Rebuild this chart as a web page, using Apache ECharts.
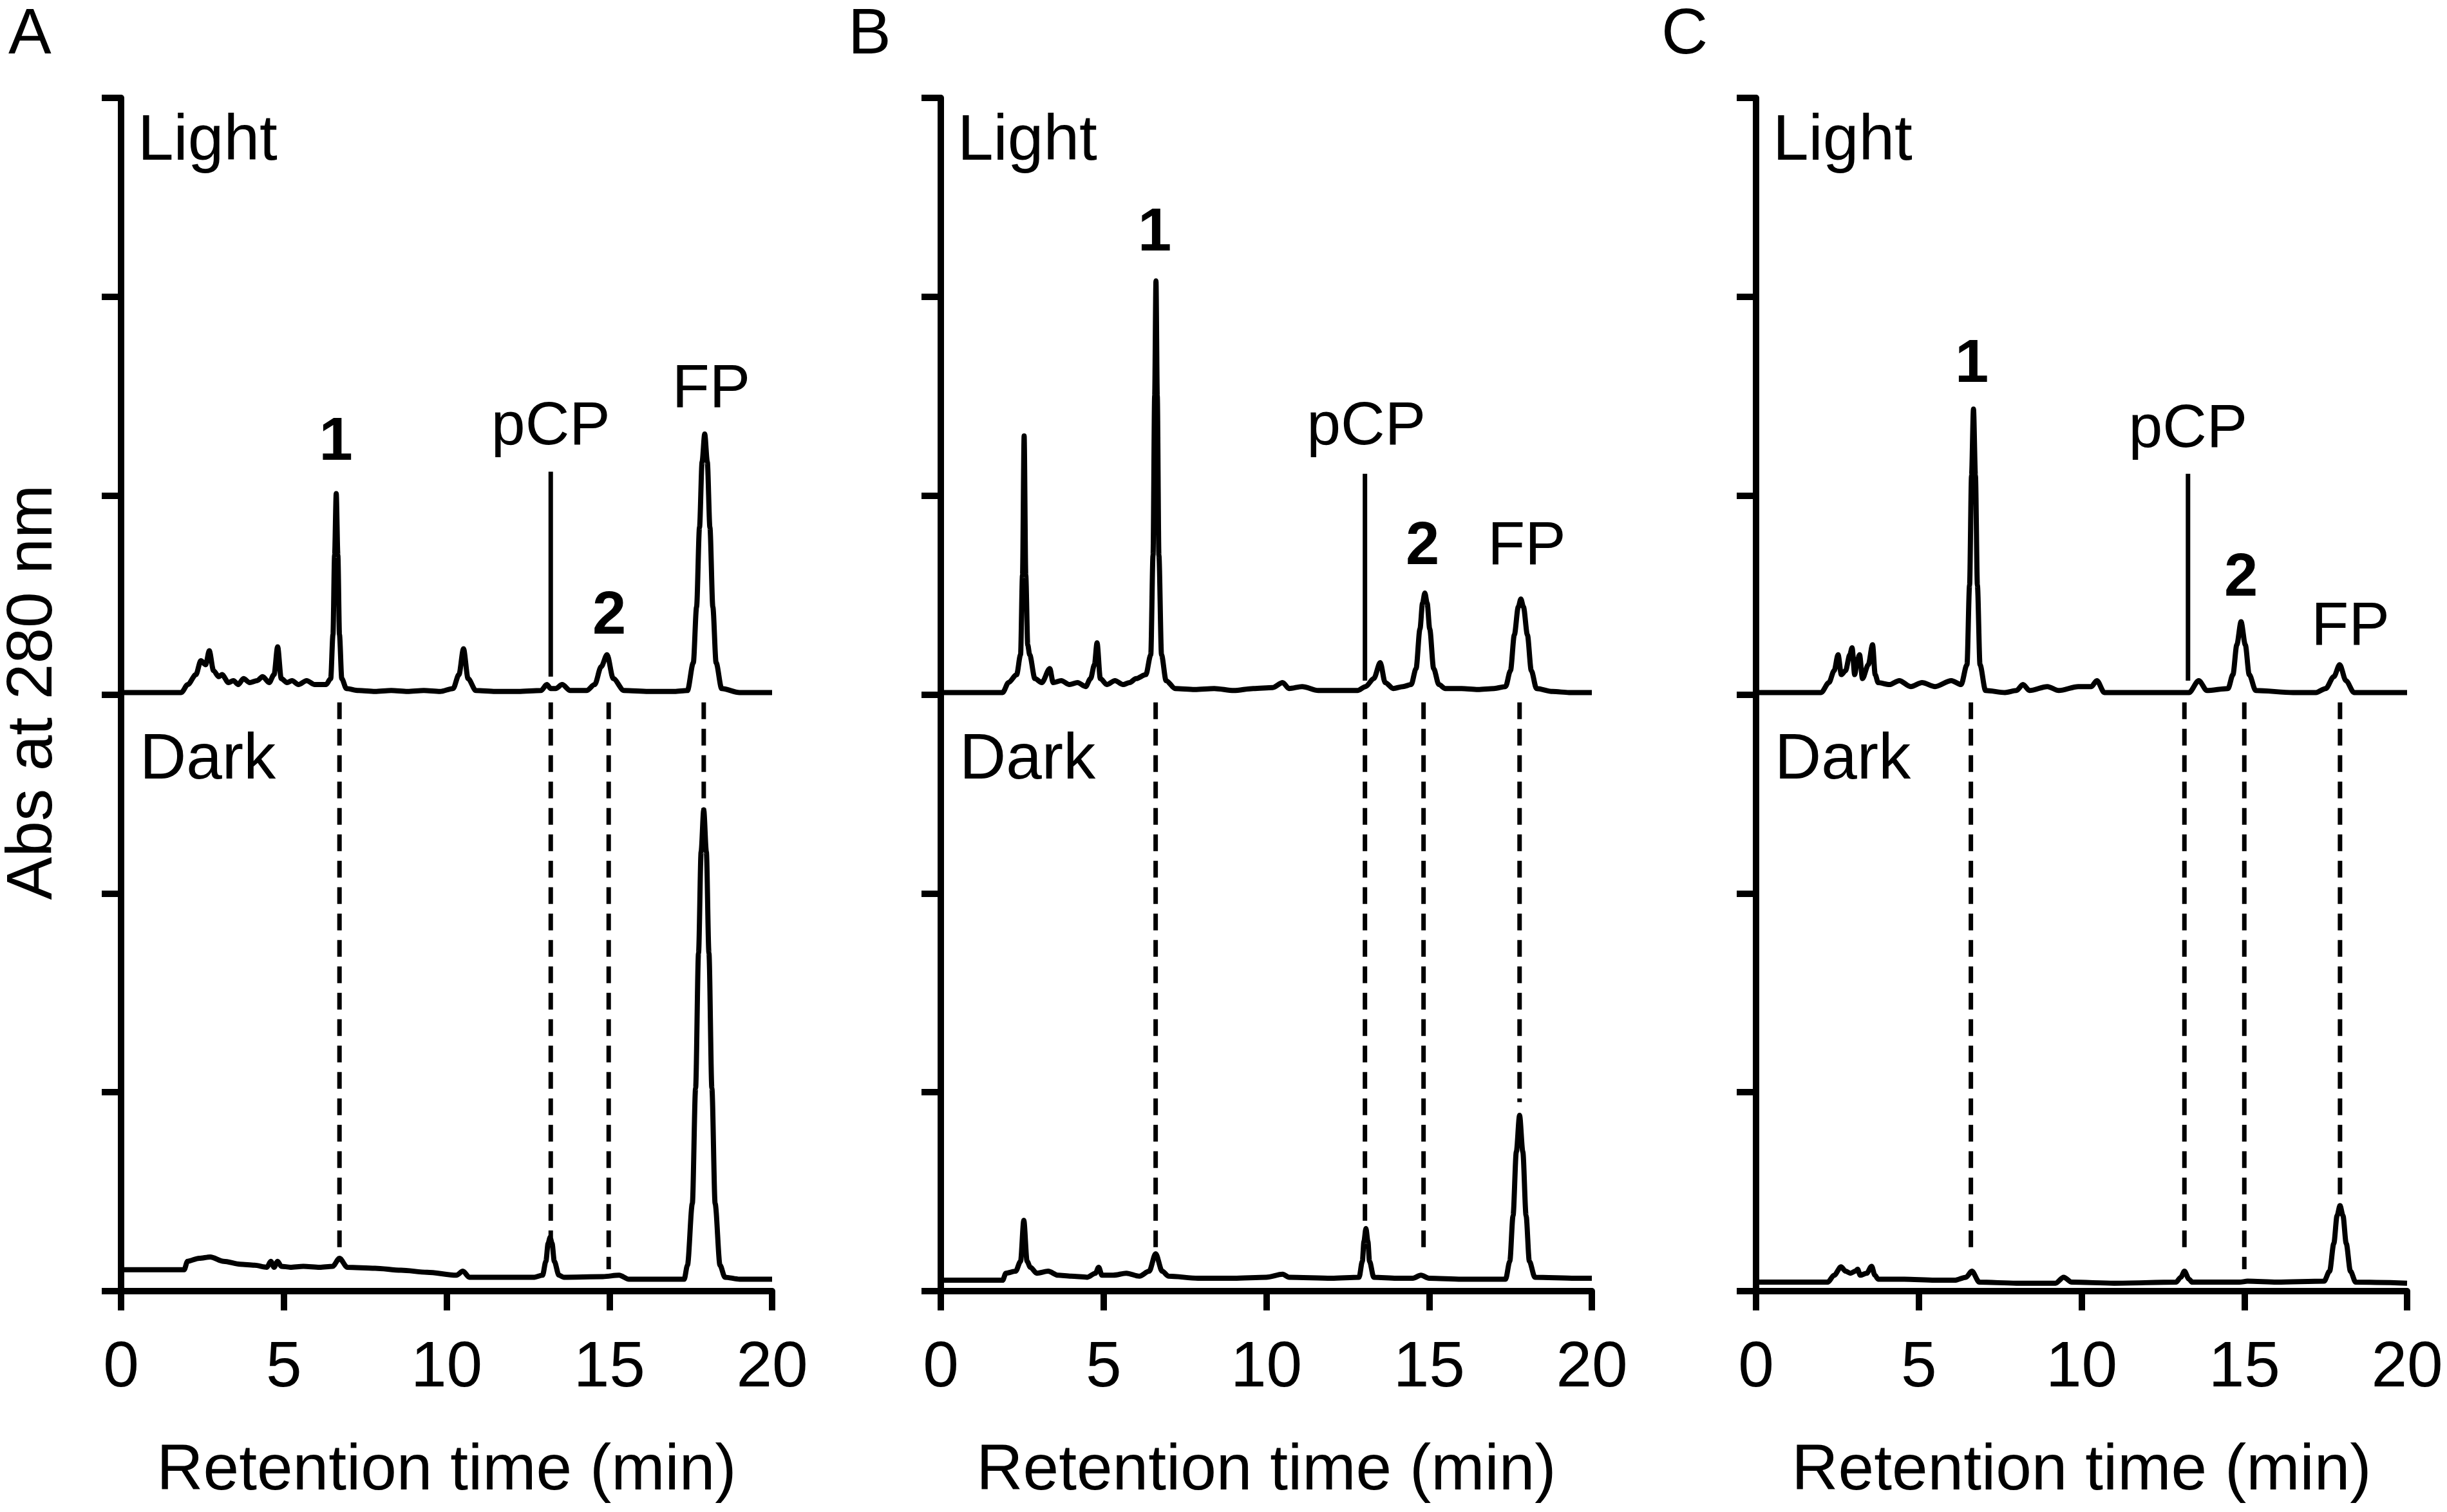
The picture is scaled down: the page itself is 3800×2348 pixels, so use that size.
<!DOCTYPE html>
<html><head><meta charset="utf-8">
<script src="https://cdn.jsdelivr.net/npm/echarts@6/dist/echarts.min.js"></script>
<style>html,body{margin:0;padding:0;background:#fff}#c{width:3800px;height:2348px}</style>
</head><body><div id="c"></div>
<script>
// ---------- DATA ----------
const xTicks = [0, 5, 10, 15, 20];
const panelLetters = ['A', 'B', 'C'];
const LIGHT_BASELINE = 3;   // Light trace drawn above Dark, offset by 3 y-units
const DASH_TOP = 2.96;

// [time (min), absorbance relative to own baseline (axis units)]
const lightA = [[0,0.01],[1.85,0.01],[2.05,0.05],[2.3,0.1],[2.45,0.17],[2.6,0.15],[2.71,0.22],[2.84,0.12],[3.0,0.09],[3.1,0.1],[3.3,0.06],[3.45,0.07],[3.6,0.05],[3.76,0.08],[3.95,0.06],[4.18,0.07],[4.35,0.09],[4.55,0.06],[4.7,0.1],[4.81,0.24],[4.92,0.08],[5.1,0.06],[5.25,0.07],[5.45,0.05],[5.7,0.07],[5.95,0.05],[6.3,0.05],[6.44,0.08],[6.51,0.3],[6.56,0.7],[6.61,1.01],[6.66,0.7],[6.71,0.3],[6.78,0.08],[6.92,0.03],[7.3,0.02],[7.8,0.015],[8.3,0.02],[8.8,0.015],[9.3,0.02],[9.8,0.015],[10.2,0.03],[10.38,0.1],[10.52,0.23],[10.66,0.08],[10.9,0.02],[11.5,0.015],[12.2,0.015],[12.9,0.02],[13.08,0.05],[13.2,0.03],[13.35,0.03],[13.55,0.05],[13.8,0.02],[14.3,0.02],[14.55,0.05],[14.75,0.14],[14.93,0.2],[15.12,0.08],[15.45,0.02],[16.2,0.015],[17.0,0.015],[17.4,0.02],[17.58,0.16],[17.68,0.44],[17.77,0.84],[17.85,1.17],[17.93,1.31],[18.01,1.17],[18.09,0.84],[18.18,0.44],[18.28,0.16],[18.45,0.03],[19.0,0.01],[20,0.01]];
const darkA = [[0,0.108],[1.94,0.108],[2.04,0.15],[2.4,0.165],[2.74,0.172],[3.15,0.15],[3.66,0.135],[4.1,0.13],[4.48,0.12],[4.6,0.15],[4.7,0.12],[4.81,0.15],[4.92,0.125],[5.2,0.12],[5.6,0.125],[6.1,0.12],[6.5,0.125],[6.71,0.165],[6.95,0.12],[7.8,0.115],[8.6,0.105],[9.4,0.095],[10.3,0.08],[10.5,0.1],[10.7,0.07],[11.5,0.07],[12.7,0.07],[12.95,0.08],[13.05,0.15],[13.12,0.24],[13.18,0.27],[13.24,0.24],[13.31,0.15],[13.45,0.08],[13.6,0.07],[14.8,0.073],[15.3,0.08],[15.6,0.06],[17.3,0.06],[17.4,0.13],[17.55,0.44],[17.65,1.02],[17.74,1.7],[17.82,2.21],[17.9,2.42],[17.98,2.21],[18.06,1.7],[18.15,1.02],[18.25,0.44],[18.4,0.13],[18.55,0.07],[19,0.06],[20,0.06]];
const lightB = [[0,0.01],[1.9,0.01],[2.08,0.06],[2.33,0.1],[2.45,0.2],[2.51,0.6],[2.56,1.3],[2.61,0.6],[2.67,0.25],[2.73,0.2],[2.89,0.08],[3.1,0.06],[3.35,0.13],[3.45,0.06],[3.7,0.07],[3.95,0.05],[4.2,0.06],[4.45,0.04],[4.6,0.08],[4.72,0.15],[4.8,0.26],[4.9,0.08],[5.1,0.05],[5.35,0.07],[5.6,0.05],[5.8,0.06],[6.0,0.08],[6.3,0.1],[6.45,0.2],[6.52,0.7],[6.57,1.5],[6.61,2.08],[6.65,1.5],[6.7,0.7],[6.78,0.2],[6.92,0.07],[7.2,0.03],[7.8,0.025],[8.4,0.03],[9.0,0.02],[9.6,0.03],[10.2,0.035],[10.5,0.06],[10.7,0.03],[11.1,0.04],[11.6,0.02],[12.2,0.02],[12.8,0.02],[13.05,0.04],[13.3,0.08],[13.5,0.16],[13.65,0.06],[13.9,0.03],[14.2,0.04],[14.45,0.05],[14.6,0.13],[14.72,0.33],[14.8,0.46],[14.87,0.51],[14.94,0.46],[15.02,0.33],[15.14,0.13],[15.3,0.05],[15.5,0.03],[16.0,0.03],[16.5,0.025],[17.0,0.03],[17.35,0.04],[17.5,0.12],[17.62,0.3],[17.74,0.44],[17.82,0.48],[17.9,0.44],[18.02,0.3],[18.14,0.12],[18.3,0.03],[18.8,0.015],[19.3,0.01],[20,0.01]];
const darkB = [[0,0.055],[1.9,0.055],[2.0,0.09],[2.3,0.1],[2.45,0.15],[2.55,0.356],[2.65,0.15],[2.75,0.12],[2.95,0.09],[3.3,0.1],[3.6,0.08],[4.0,0.075],[4.5,0.07],[4.75,0.09],[4.85,0.12],[4.95,0.08],[5.3,0.08],[5.7,0.09],[6.1,0.075],[6.4,0.1],[6.6,0.188],[6.8,0.1],[7.0,0.075],[7.9,0.065],[9.0,0.065],[10.0,0.07],[10.5,0.085],[10.7,0.07],[12.0,0.065],[12.85,0.07],[12.95,0.15],[13.0,0.25],[13.06,0.315],[13.12,0.25],[13.17,0.15],[13.3,0.07],[14.0,0.065],[14.5,0.065],[14.75,0.08],[15.0,0.065],[16.0,0.06],[17.35,0.06],[17.48,0.15],[17.58,0.38],[17.68,0.7],[17.78,0.884],[17.88,0.7],[17.98,0.38],[18.08,0.15],[18.25,0.07],[19.5,0.065],[20,0.065]];
const lightC = [[0,0.01],[2.0,0.01],[2.24,0.06],[2.4,0.12],[2.52,0.2],[2.62,0.1],[2.75,0.12],[2.88,0.2],[2.95,0.235],[3.03,0.1],[3.12,0.18],[3.18,0.2],[3.27,0.08],[3.45,0.15],[3.58,0.25],[3.66,0.1],[3.75,0.06],[4.1,0.05],[4.4,0.07],[4.75,0.04],[5.1,0.06],[5.5,0.04],[6.0,0.07],[6.3,0.05],[6.48,0.15],[6.56,0.55],[6.62,1.1],[6.68,1.435],[6.74,1.1],[6.8,0.55],[6.88,0.15],[7.05,0.02],[7.65,0.01],[8.0,0.02],[8.2,0.05],[8.4,0.02],[8.95,0.04],[9.3,0.02],[9.9,0.04],[10.3,0.04],[10.47,0.07],[10.7,0.01],[12.0,0.01],[13.3,0.01],[13.6,0.07],[13.85,0.02],[14.5,0.03],[14.65,0.1],[14.77,0.25],[14.9,0.366],[15.03,0.25],[15.15,0.1],[15.35,0.02],[16.5,0.01],[17.2,0.01],[17.5,0.03],[17.75,0.09],[17.93,0.15],[18.12,0.07],[18.37,0.01],[19,0.01],[20,0.01]];
const darkC = [[0,0.045],[2.2,0.045],[2.4,0.08],[2.61,0.122],[2.75,0.1],[2.9,0.09],[3.05,0.1],[3.12,0.11],[3.2,0.08],[3.4,0.09],[3.55,0.125],[3.65,0.08],[3.75,0.06],[4.55,0.06],[5.5,0.055],[6.1,0.055],[6.45,0.07],[6.63,0.1],[6.86,0.045],[8.0,0.04],[9.2,0.04],[9.45,0.07],[9.7,0.045],[11,0.04],[12.9,0.045],[13.05,0.07],[13.16,0.1],[13.3,0.06],[13.4,0.045],[14.85,0.045],[15.1,0.05],[16,0.045],[17.45,0.05],[17.62,0.1],[17.75,0.24],[17.85,0.38],[17.94,0.43],[18.03,0.38],[18.13,0.24],[18.26,0.1],[18.42,0.045],[20,0.04]];

// dashed guide lines: [time, lower end value]
const dashesA = [[6.71,0.205],[13.2,0.27],[14.98,0.11],[17.9,2.42]];
const dashesB = [[6.6,0.217],[13.03,0.33],[14.83,0.19],[17.78,0.95]];
const dashesC = [[6.6,0.19],[13.16,0.19],[15.0,0.11],[17.94,0.43]];

// pCP marker line: [time, from, to]
const pcpA = [13.2, 3.09, 4.12];
const pcpB = [13.03, 3.07, 4.11];
const pcpC = [13.27, 3.07, 4.11];

// peak annotations: [text, time, value, bold]
const labelsA = [['1',6.6,4.265,true],['pCP',13.2,4.343,false],['2',15.0,3.39,true],['FP',18.13,4.53,false]];
const labelsB = [['1',6.57,5.316,true],['pCP',13.07,4.343,false],['2',14.8,3.74,true],['FP',18.0,3.74,false]];
const labelsC = [['1',6.63,4.655,true],['pCP',13.27,4.33,false],['2',14.9,3.58,true],['FP',18.26,3.335,false]];

// ---------- CHART ----------
const FONT = "'Liberation Sans', Arial, sans-serif";
const panels = [
  {left:188, light:lightA, dark:darkA, dashes:dashesA, pcp:pcpA, labels:labelsA, letterX:13},
  {left:1461, light:lightB, dark:darkB, dashes:dashesB, pcp:pcpB, labels:labelsB, letterX:1317},
  {left:2727, light:lightC, dark:darkC, dashes:dashesC, pcp:pcpC, labels:labelsC, letterX:2580}
];
const GRID_TOP = 152, GRID_H = 1853, GRID_W = 1011;

const grids = [], xAxes = [], yAxes = [], series = [], graphics = [];
panels.forEach((p, i) => {
  grids.push({left:p.left, top:GRID_TOP, width:GRID_W, height:GRID_H, containLabel:false});
  xAxes.push({
    type:'value', gridIndex:i, min:xTicks[0], max:xTicks[xTicks.length-1], interval:5,
    axisLine:{show:true, onZero:false, lineStyle:{color:'#000', width:10}},
    axisTick:{show:true, length:30, lineStyle:{color:'#000', width:10}},
    axisLabel:{show:true, margin:70, fontSize:100, color:'#000', fontFamily:FONT},
    splitLine:{show:false},
    name:'Retention time (min)', nameLocation:'middle', nameGap:230,
    nameTextStyle:{fontSize:100, color:'#000', fontFamily:FONT}
  });
  yAxes.push({
    type:'value', gridIndex:i, min:0, max:6, interval:1,
    axisLine:{show:true, lineStyle:{color:'#000', width:10}},
    axisTick:{show:true, length:30, lineStyle:{color:'#000', width:10}},
    axisLabel:{show:false}, splitLine:{show:false}
  });
  const lineBase = {type:'line', xAxisIndex:i, yAxisIndex:i, symbol:'none', silent:true, z:3};
  series.push(Object.assign({}, lineBase, {
    name:'Light', smooth:0.3, smoothMonotone:'x',
    data:p.light.map(d => [d[0], d[1] + LIGHT_BASELINE]),
    lineStyle:{color:'#000', width:8}
  }));
  series.push(Object.assign({}, lineBase, {
    name:'Dark', smooth:0.3, smoothMonotone:'x',
    data:p.dark, lineStyle:{color:'#000', width:8}
  }));
  series.push(Object.assign({}, lineBase, {
    name:'pCP marker', data:[[p.pcp[0], p.pcp[1]], [p.pcp[0], p.pcp[2]]],
    lineStyle:{color:'#000', width:7}
  }));
  p.dashes.forEach(d => {
    series.push(Object.assign({}, lineBase, {
      name:'guide', data:[[d[0], DASH_TOP], [d[0], d[1]]],
      lineStyle:{color:'#000', width:7, type:[26,15]}
    }));
  });
  series.push({
    type:'scatter', xAxisIndex:i, yAxisIndex:i, silent:true, symbolSize:1,
    itemStyle:{color:'rgba(0,0,0,0)', opacity:1}, z:5,
    data:p.labels.map(l => ({
      value:[l[1], l[2]],
      label:{show:true, position:'inside', formatter:l[0], color:'#000', opacity:1,
             fontFamily:FONT, fontSize:l[3] ? 94 : 95, fontWeight:l[3] ? 'bold' : 'normal'}
    }))
  });
  graphics.push({type:'text', x:p.letterX, y:55, style:{text:panelLetters[i], fontSize:100, fontFamily:FONT, fill:'#000', align:'left', verticalAlign:'middle'}});
  graphics.push({type:'text', x:p.left + 26, y:220, style:{text:'Light', fontSize:100, fontFamily:FONT, fill:'#000', align:'left', verticalAlign:'middle'}});
  graphics.push({type:'text', x:p.left + 29, y:1181, style:{text:'Dark', fontSize:100, fontFamily:FONT, fill:'#000', align:'left', verticalAlign:'middle'}});
});
graphics.push({type:'text', x:52, y:1075, rotation:Math.PI/2,
  style:{text:'Abs at 280 nm', fontSize:100, fontFamily:FONT, fill:'#000', align:'center', verticalAlign:'middle'}});

const chart = echarts.init(document.getElementById('c'), null, {renderer:'canvas'});
chart.setOption({
  animation:false, backgroundColor:'#fff',
  grid:grids, xAxis:xAxes, yAxis:yAxes, series:series, graphic:graphics
});
</script></body></html>
